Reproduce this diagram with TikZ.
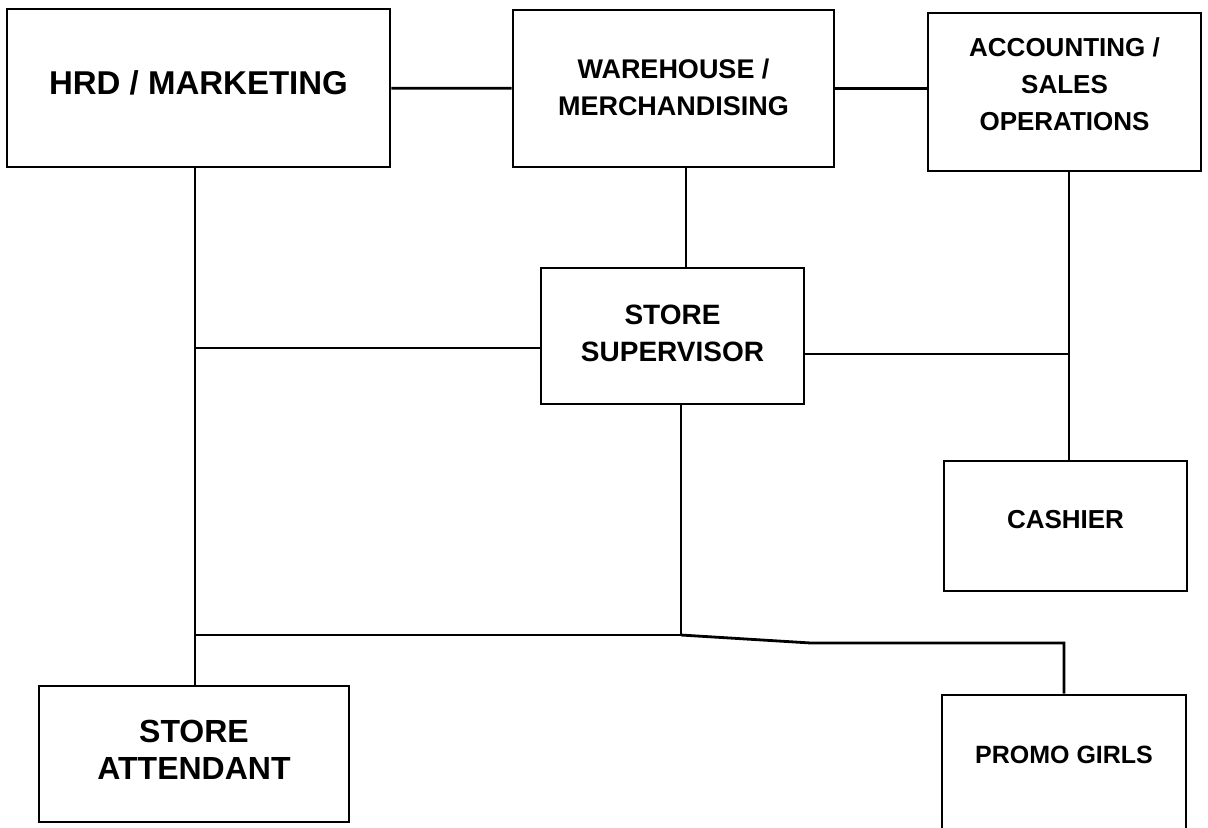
\documentclass[tikz,border=0pt]{standalone}
\usepackage{fontspec}
\setmainfont{Liberation Sans}

\begin{document}
\begin{tikzpicture}[ x=0.5pt, y=-0.5pt, line width=1.4pt,
    unit/.style={ draw, rectangle, inner sep=0pt },
    jobtext/.style={ font=\bfseries\fontsize{#1}{18.5}\selectfont,
    align=center, inner sep=0pt } ]
  \useasboundingbox (0,0) rectangle (1208,827);
  % top row
  \node[unit,minimum width=191.5pt,minimum height=79pt,
    label={[jobtext=16.5,yshift=2.75pt]center:HRD / MARKETING}] (hrd) at (198.5,88) {};
  \node[unit,minimum width=160.5pt,minimum height=78.5pt,
    label={[jobtext=13.5,yshift=0.5pt]center:{WAREHOUSE /\\MERCHANDISING}}] (ware) at (673.5,88.5) {};
  \node[unit,minimum width=136.5pt,minimum height=79pt,
    label={[jobtext=13,yshift=3.75pt]center:{ACCOUNTING /\\SALES\\OPERATIONS}}] (acct) at (1064.5,92) {};
  % middle
  \node[unit,minimum width=131.5pt,minimum height=68pt,
    label={[jobtext=14,yshift=1.5pt]center:{STORE\\SUPERVISOR}}] (sup) at (672.5,336) {};
  \node[unit,minimum width=121.5pt,minimum height=65pt,
    label={[jobtext=13,yshift=3pt]center:CASHIER}] (cash) at (1065.5,526) {};
  % bottom row
  \node[unit,minimum width=155pt,minimum height=68pt,
    label={[jobtext=16,yshift=2.25pt]center:{STORE\\ATTENDANT}}] (att) at (194,754) {};
  \node[unit,minimum width=122pt,minimum height=70pt,
    label={[jobtext=12.5,yshift=5pt]center:PROMO GIRLS}] (promo) at (1064,765) {};

  \coordinate (spine) at ([xshift=-1.75pt]hrd.south);
  \coordinate (rail) at ([xshift=2.25pt]acct.south);
  \coordinate (drop) at ([xshift=4.25pt]sup.south);
  \coordinate (split) at (681,635);
  \coordinate (kink) at (811,643);

  \draw (hrd) -- (ware);
  \draw (ware.east) -- (ware.east -| acct.west);
  \draw (spine) -- (spine |- att.north);
  \draw ([xshift=6.25pt]ware.south) -- ([xshift=6.25pt]ware.south |- sup.north);
  \draw ([yshift=-6pt]sup.west) -- ([yshift=-6pt]sup.west -| spine);
  \draw ([yshift=-9pt]sup.east) -- ([yshift=-9pt]sup.east -| rail);
  \draw (rail) -- (rail |- cash.north);
  \draw (drop) -- (split) -- (split -| spine);
  \draw (split) -- (kink) -- (kink -| promo.north) -- (promo.north);
\end{tikzpicture}
\end{document}
